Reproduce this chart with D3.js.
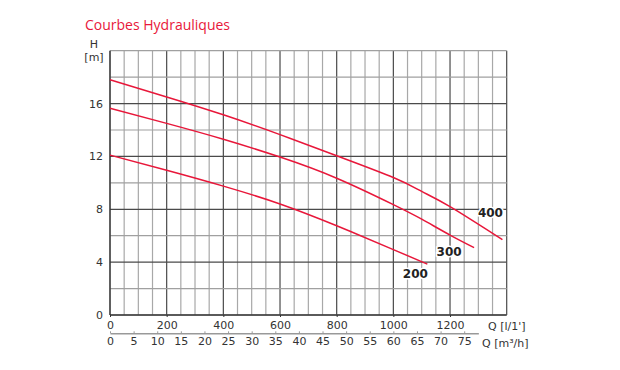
<!DOCTYPE html>
<html>
<head>
<meta charset="utf-8">
<script src="https://cdn.jsdelivr.net/npm/d3@7"></script>
<style>
  body { margin: 0; background: #fff; }
  text { font-family: "DejaVu Sans", sans-serif; }
</style>
</head>
<body>
<div id="chart"></div>
<script>
// flow in l/min, head in m
const q400 = [0, 200, 400, 600, 800, 1000, 1100, 1200, 1385];
const h400 = [17.8, 16.5, 15.15, 13.65, 12.05, 10.4, 9.35, 8.2, 5.7];
const q300 = [0, 200, 400, 600, 800, 1000, 1100, 1200, 1285];
const h300 = [15.65, 14.5, 13.3, 11.95, 10.35, 8.35, 7.25, 6.05, 5.1];
const q200 = [0, 200, 400, 600, 800, 1000, 1120];
const h200 = [12.1, 10.95, 9.75, 8.4, 6.75, 4.95, 3.85];
const curveNames = ['400', '300', '200'];

const hTicks = [0, 4, 8, 12, 16];
const qTicks = [0, 200, 400, 600, 800, 1000, 1200];
const m3Ticks = [0, 5, 10, 15, 20, 25, 30, 35, 40, 45, 50, 55, 60, 65, 70, 75];

const MARGIN = { TOP: 50.7, BOTTOM: 55, LEFT: 110, RIGHT: 113.3 };
const W = 620, H = 370;
const WIDTH = W - MARGIN.LEFT - MARGIN.RIGHT;
const HEIGHT = H - MARGIN.TOP - MARGIN.BOTTOM;
const RED = '#e8173a';

const svg = d3.select('#chart').append('svg')
  .attr('width', W).attr('height', H);

svg.append('text')
  .attr('x', 85).attr('y', 30)
  .attr('fill', RED)
  .style('font-family', '"Open Sans", sans-serif')
  .style('font-size', '14px')
  .text('Courbes Hydrauliques');

const g = svg.append('g')
  .attr('transform', `translate(${MARGIN.LEFT},${MARGIN.TOP})`);

const x = d3.scaleLinear().domain([0, 1400]).range([0, WIDTH]);
const y = d3.scaleLinear().domain([0, 20]).range([HEIGHT, 0]);
// 1 m3/h = 1000/60 l/min
const xm3 = d3.scaleLinear().domain([0, 78]).range([0, x(1300)]);

// grid
const vLines = d3.range(0, 1401, 50);
const hLines = d3.range(0, 21, 2);

g.selectAll('.vgrid').data(vLines).enter().append('line')
  .attr('x1', d => x(d)).attr('x2', d => x(d))
  .attr('y1', 0).attr('y2', HEIGHT)
  .attr('stroke', d => d % 200 === 0 && d > 0 ? '#4a4a4a' : '#a8a8a8')
  .attr('stroke-width', 1.2);

g.selectAll('.hgrid').data(hLines).enter().append('line')
  .attr('x1', 0).attr('x2', WIDTH)
  .attr('y1', d => y(d)).attr('y2', d => y(d))
  .attr('stroke', d => d % 4 === 0 && d > 0 && d < 20 ? '#4a4a4a' : '#a0a0a0')
  .attr('stroke-width', 1.2);

// axes lines
g.append('line').attr('x1', 0).attr('x2', 0).attr('y1', 0).attr('y2', HEIGHT)
  .attr('stroke', '#333').attr('stroke-width', 1.4);
g.append('line').attr('x1', 0).attr('x2', WIDTH).attr('y1', HEIGHT).attr('y2', HEIGHT)
  .attr('stroke', '#333').attr('stroke-width', 1.4);

const yAxis = g.append('g')
  .call(d3.axisLeft(y).tickValues(hTicks).tickSize(0).tickPadding(7));
yAxis.select('.domain').remove();
yAxis.selectAll('text').style('font-size', '11px').attr('fill', '#333');

const xAxis = g.append('g')
  .attr('transform', `translate(0,${HEIGHT})`)
  .call(d3.axisBottom(x).tickValues(qTicks).tickFormat(d3.format('d')).tickSize(2).tickPadding(4));
xAxis.select('.domain').remove();
xAxis.selectAll('line').attr('stroke', '#333');
xAxis.selectAll('text').style('font-size', '11px').attr('fill', '#333');

const m3Axis = g.append('g')
  .attr('transform', `translate(0,${HEIGHT + 18.3})`)
  .call(d3.axisBottom(xm3).tickValues(m3Ticks).tickSizeInner(-2).tickSizeOuter(0).tickPadding(4));
m3Axis.select('.domain').attr('stroke', '#999').attr('stroke-width', 1.5);
m3Axis.selectAll('line').attr('stroke', '#999');
m3Axis.selectAll('text').style('font-size', '11px').attr('fill', '#333');

// axis titles
svg.append('text').attr('x', 94).attr('y', 47.5).attr('text-anchor', 'middle')
  .style('font-size', '11px').attr('fill', '#333').text('H');
svg.append('text').attr('x', 94).attr('y', 61).attr('text-anchor', 'middle')
  .style('font-size', '11px').attr('fill', '#333').text('[m]');
svg.append('text').attr('x', 488).attr('y', 329.5)
  .style('font-size', '11px').attr('fill', '#333').text("Q [l/1']");
svg.append('text').attr('x', 482).attr('y', 347)
  .style('font-size', '11px').attr('fill', '#333').text('Q [m³/h]');

// curves
const series = [
  { name: curveNames[0], q: q400, h: h400, dx: -12, dy: -23 },
  { name: curveNames[1], q: q300, h: h300, dx: -25, dy: 8 },
  { name: curveNames[2], q: q200, h: h200, dx: -12, dy: 14 }
];

const line = d3.line()
  .x(d => x(d[0])).y(d => y(d[1]))
  .curve(d3.curveNatural);

series.forEach(s => {
  const pts = s.q.map((q, i) => [q, s.h[i]]);
  g.append('path')
    .datum(pts)
    .attr('d', line)
    .attr('fill', 'none')
    .attr('stroke', RED)
    .attr('stroke-width', 1.5);

  const last = pts[pts.length - 1];
  g.append('text')
    .attr('x', x(last[0]) + s.dx)
    .attr('y', y(last[1]) + s.dy)
    .attr('text-anchor', 'middle')
    .attr('stroke', '#fff').attr('stroke-width', 3)
    .attr('paint-order', 'stroke')
    .style('font-size', '12px').style('font-weight', 'bold')
    .attr('fill', '#222')
    .text(s.name);
});
</script>
</body>
</html>
